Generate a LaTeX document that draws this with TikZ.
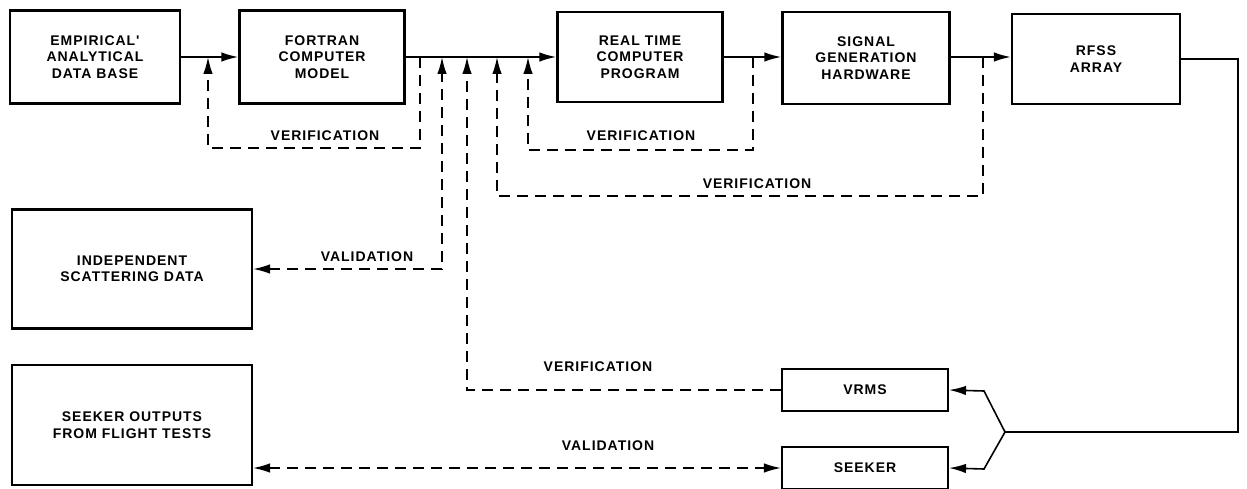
\documentclass[tikz,border=0pt]{standalone}
\usepackage{fontspec}
\newfontfamily\diag[LetterSpace=7]{Liberation Sans}
\usetikzlibrary{arrows.meta}
\begin{document}
\begin{tikzpicture}[x=1pt,y=-1pt,
  blk/.style={draw, line width=2.1pt, align=center, inner sep=0pt,
    font={\diag\bfseries\fontsize{14}{16.5}\selectfont}},
  lbl/.style={inner sep=0pt, font={\diag\bfseries\fontsize{14}{16.5}\selectfont}},
  flow/.style={line width=2pt, -{Latex[length=17pt,width=9.5pt]}},
  fb/.style={line width=1.6pt, dash pattern=on 11pt off 7pt},
  onetip/.style={-{Latex[length=17pt,width=9.5pt]}},
  twotips/.style={{Latex[length=17pt,width=9.5pt]}-{Latex[length=17pt,width=9.5pt]}},
  wire/.style={line width=1.6pt}
]
\fill[white] (0,0) rectangle (1247,489);
\useasboundingbox (0,0) rectangle (1247,489);

% processing chain
\node[blk, minimum width=170pt, minimum height=93pt] (emp) at (95,57)
  {EMPIRICAL'\\ANALYTICAL\\DATA BASE};
\node[blk, minimum width=165pt, minimum height=93pt] (fort) at (322,57)
  {FORTRAN\\COMPUTER\\MODEL};
\node[blk, minimum width=165pt, minimum height=90pt] (rt) at (640,57)
  {REAL TIME\\COMPUTER\\PROGRAM};
\node[blk, minimum width=167pt, minimum height=92pt] (sig) at (866,58)
  {SIGNAL\\GENERATION\\HARDWARE};
\node[blk, minimum width=168pt, minimum height=90pt] (rfss) at (1096,59)
  {RFSS\\ARRAY};

% reference data
\node[blk, minimum width=240pt, minimum height=119pt] (ind) at (132,269)
  {INDEPENDENT\\SCATTERING DATA};
\node[blk, minimum width=240pt, minimum height=120pt] (sout) at (132,425)
  {SEEKER OUTPUTS\\FROM FLIGHT TESTS};

% measurement units
\node[blk, minimum width=166pt, minimum height=42pt] (vrms) at (865,390) {VRMS};
\node[blk, minimum width=166pt, minimum height=42pt] (seeker) at (865,468) {SEEKER};

% main flow
\draw[flow] (emp.east |- 0,57) -- (fort.west |- 0,57);
\draw[flow] (fort.east |- 0,57) -- (rt.west |- 0,57);
\draw[flow] (rt.east |- 0,57) -- (sig.west |- 0,57);
\draw[flow] (sig.east |- 0,57) -- (rfss.west |- 0,57);

% taps and entry points on the main line
\coordinate (a1) at (420,57);  \coordinate (b1) at (208,57);
\coordinate (a2) at (753,57);  \coordinate (b2) at (528,57);
\coordinate (a3) at (983,57);  \coordinate (b3) at (497,57);
\coordinate (v1) at (442,57);  \coordinate (v2) at (467,57);

% verification loops
\draw[fb, onetip] (a1) -- ++(0,91) -| (b1);
\draw[fb, onetip] (a2) -- ++(0,93) -| (b2);
\draw[fb, onetip] (a3) -- ++(0,139) -| (b3);
\node[lbl] (l1) at (325,136) {VERIFICATION};
\node[lbl] (l2) at (641,136) {VERIFICATION};
\node[lbl] (l3) at (757,184) {VERIFICATION};

% validation against independent data
\draw[fb, twotips] (ind.east) -| (v1);
\node[lbl] (l4) at (367,257) {VALIDATION};

% VRMS verification
\draw[fb, onetip] (vrms.west) -| (v2);
\node[lbl] (l5) at (598,367) {VERIFICATION};

% flight test validation
\draw[fb, twotips] (sout.east |- seeker.west) -- (seeker.west);
\node[lbl] (l6) at (608,446) {VALIDATION};

% RFSS output to VRMS and seeker
\coordinate (rc) at (1238,432);
\coordinate (j) at (1005,432);
\draw[wire] (rfss.east) -| (rc) -- (j);
\draw[wire, onetip] (j) -- (984,391) -- (vrms.east);
\draw[wire, onetip] (j) -- (984,469) -- (seeker.east);
\end{tikzpicture}
\end{document}
